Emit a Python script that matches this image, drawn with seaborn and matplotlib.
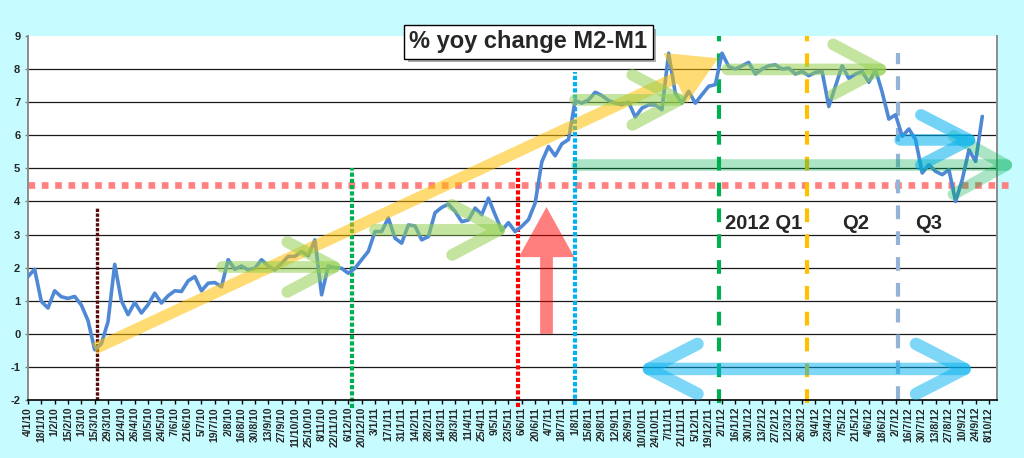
#Chart: % yoy change M2-M1, weekly, Jan 2010 - Oct 2012
#values

import numpy as np
import pandas as pd
import matplotlib
matplotlib.use("Agg")
from matplotlib import pyplot as plt
from matplotlib.patches import FancyArrowPatch
import matplotlib.patheffects as pe
import seaborn as sns

#weekly values, first point 4/1/10, last point 1/10/12
m2_m1 = [1.73, 1.95, 0.98, 0.78, 1.30, 1.12, 1.07, 1.13, 0.87, 0.40,
         -0.48, -0.30, 0.37, 2.10, 1.00, 0.58, 0.95, 0.63, 0.88, 1.23,
         0.93, 1.15, 1.30, 1.28, 1.60, 1.73, 1.30, 1.53, 1.55, 1.42,
         2.24, 1.95, 2.05, 1.93, 1.98, 2.24, 2.05, 1.93, 2.13, 2.34,
         2.34, 2.49, 2.36, 2.84, 1.18, 2.05, 2.00, 1.98, 1.83, 1.98,
         2.24, 2.49, 3.09, 3.09, 3.50, 2.89, 2.74, 3.29, 3.26, 2.84,
         2.94, 3.66, 3.82, 3.92, 3.70, 3.39, 3.44, 3.80, 3.60, 4.10,
         3.60, 3.12, 3.36, 3.09, 3.25, 3.45, 3.95, 5.20, 5.66, 5.38,
         5.74, 5.87, 7.05, 6.97, 7.07, 7.30, 7.20, 7.05, 6.97, 6.92,
         7.00, 6.55, 6.82, 6.92, 6.92, 6.77, 8.48, 7.27, 6.97, 7.33,
         6.97, 7.23, 7.48, 7.53, 8.48, 8.08, 8.00, 8.10, 8.20, 7.85,
         8.00, 8.10, 8.13, 8.00, 8.03, 7.85, 7.93, 7.80, 7.90, 7.93,
         6.87, 7.48, 8.10, 7.72, 7.85, 7.93, 7.60, 7.98, 7.30, 6.49,
         6.62, 5.97, 6.19, 5.87, 4.86, 5.11, 4.91, 4.81, 4.96, 4.00,
         4.66, 5.56, 5.21, 6.57]

#category labels every second week
tick_labels = ["4/1/10", "18/1/10", "1/2/10", "15/2/10", "1/3/10", "15/3/10", "29/3/10",
               "12/4/10", "26/4/10", "10/5/10", "24/5/10", "7/6/10", "21/6/10", "5/7/10",
               "19/7/10", "2/8/10", "16/8/10", "30/8/10", "13/9/10", "27/9/10", "11/10/10",
               "25/10/10", "8/11/10", "22/11/10", "6/12/10", "20/12/10",
               "3/1/11", "17/1/11", "31/1/11", "14/2/11", "28/2/11", "14/3/11", "28/3/11",
               "11/4/11", "25/4/11", "9/5/11", "23/5/11", "6/6/11", "20/6/11", "4/7/11",
               "18/7/11", "1/8/11", "15/8/11", "29/8/11", "12/9/11", "26/9/11", "10/10/11",
               "24/10/11", "7/11/11", "21/11/11", "5/12/11", "19/12/11",
               "2/1/12", "16/1/12", "30/1/12", "13/2/12", "27/2/12", "12/3/12", "26/3/12",
               "9/4/12", "23/4/12", "7/5/12", "21/5/12", "4/6/12", "18/6/12", "2/7/12",
               "16/7/12", "30/7/12", "13/8/12", "27/8/12", "10/9/12", "24/9/12", "8/10/12"]

y_ticks = list(range(-2, 10))
threshold = 4.5
quarter_labels = ["2012 Q1", "Q2", "Q3"]

sns.set_style("white")
plt.rcParams['font.family'] = ['Liberation Sans', 'DejaVu Sans']

fig = plt.figure(figsize=(10.24, 4.58), dpi=100, facecolor='#C6FCFF')
ax = fig.add_axes([0.0273, 0.1266, 0.9463, 0.7948])
ax.set_facecolor('white')

weeks = np.arange(len(m2_m1))
df = pd.DataFrame({'week': weeks, 'pct': m2_m1})

#horizontal grid (no line at the top)
for v in y_ticks[1:-1]:
    ax.axhline(v, color='#1a1a1a', lw=0.9, zorder=1)

#red dotted 4.5 level, runs a bit past the plot edge
ax.plot([0, 147.3], [threshold, threshold], color='#FF8080', lw=4.8,
        linestyle=(0, (1, 1)), dash_capstyle='butt', zorder=2, clip_on=False)

#vertical markers: week, bottom, top, colour, width, dash pattern
vlines = [
    (10.35, -2.0, 3.8, '#5C0A0A', 2.4, (0, (1, 0.45))),
    (48.5, -2.25, 5.0, '#00B050', 3.0, (0, (1, 0.5))),
    (73.4, -2.2, 5.0, '#FF0000', 3.0, (0, (1, 0.5))),
    (82.0, -2.15, 7.9, '#00B0F0', 3.0, (0, (1, 0.5))),
    (103.6, -2.1, 9.0, '#00B050', 3.0, (0, (3.3, 2.9))),
    (116.75, -2.1, 9.0, '#FFC000', 3.0, (0, (3.3, 2.9))),
    (130.3, -2.0, 8.5, '#95B3D7', 3.0, (0, (3.3, 2.9))),
]
for x, y0, y1, c, w, ls in vlines:
    ax.plot([x, x], [y0, y1], color=c, lw=w, linestyle=ls, dash_capstyle='butt',
            zorder=2, clip_on=False)

sns.lineplot(data=df, x='week', y='pct', ax=ax, color='#4F89D6', linewidth=2.6, zorder=3)


def arrow(p0, p1, color, alpha, style, width=8.4, head_len=34, head_w=18, clip=True):
    if style == 'simple':
        st = f"simple,head_length={head_len},head_width={head_w},tail_width={width}"
        a = FancyArrowPatch(p0, p1, arrowstyle=st, color=color, alpha=alpha, lw=0,
                            shrinkA=0, shrinkB=0, mutation_scale=1, zorder=4, clip_on=clip)
    else:
        st = f"{style},head_length={head_len},head_width={head_w}"
        a = FancyArrowPatch(p0, p1, arrowstyle=st, color=color, alpha=alpha, lw=width,
                            shrinkA=0, shrinkB=0, mutation_scale=1, zorder=4, clip_on=clip,
                            capstyle='round', joinstyle='round')
    ax.add_patch(a)


#big trend arrow and the jump arrow
arrow((10.0, -0.45), (103.4, 8.33), '#FFC000', 0.55, 'simple', width=8.4, head_len=34, head_w=40)
arrow((77.7, 0.0), (77.7, 3.83), '#FF0000', 0.5, 'simple', width=9.2, head_len=36, head_w=40)
#flat phases
arrow((29.1, 2.02), (47.8, 2.02), '#92D050', 0.55, '->')
arrow((52.0, 3.14), (72.5, 3.14), '#92D050', 0.55, '->')
arrow((82.0, 7.07), (99.5, 7.07), '#92D050', 0.55, '->')
arrow((104.8, 7.99), (129.6, 7.99), '#92D050', 0.55, '->')
arrow((82.3, 5.1), (148.4, 5.1), '#00B050', 0.33, '->', head_len=38, head_w=21, clip=False)
arrow((130.7, 5.86), (143.0, 5.86), '#00B0F0', 0.55, '->', head_len=35, head_w=18)
arrow((91.0, -1.06), (142.4, -1.06), '#00B0F0', 0.5, '<->', width=9.0, head_len=35, head_w=18)

#title box
t = ax.text(75.0, 8.82, "% yoy change M2-M1", ha='center', va='center', fontsize=17,
            fontweight='bold', zorder=10,
            bbox=dict(boxstyle='square,pad=0.22', fc='white', ec='black', lw=1.0))
t.get_bbox_patch().set_path_effects([pe.SimplePatchShadow(offset=(2.5, -2.5), shadow_rgbFace='#8a8a8a', alpha=0.7),
                                     pe.Normal()])

for lab, x in zip(quarter_labels, [104.4, 121.95, 132.9]):
    ax.text(x, 3.16, lab, ha='left', va='baseline', fontsize=14.5, fontweight='bold', zorder=10)

ax.set_xlim(0, 145.2)
ax.set_ylim(-2, 9)
ax.set_xticks(np.arange(0, 2 * len(tick_labels), 2))
ax.set_xticklabels(tick_labels, rotation=90, fontsize=7.5, fontweight='bold')
ax.set_yticks(y_ticks)
ax.set_yticklabels([str(v) for v in y_ticks], fontsize=8, fontweight='bold')
ax.tick_params(axis='x', direction='out', length=3, width=1, color='black', pad=2, bottom=True)
ax.tick_params(axis='y', direction='out', length=2.5, width=1, color='#7f7f7f', pad=3, left=True)
ax.set(xlabel='', ylabel='')

for side in ['left', 'right']:
    ax.spines[side].set_color('#8c8c8c')
    ax.spines[side].set_linewidth(1.4)
ax.spines['top'].set_visible(False)
ax.spines['bottom'].set_color('black')
ax.spines['bottom'].set_linewidth(1.2)

fig.savefig("out.png", dpi=100, facecolor=fig.get_facecolor())
